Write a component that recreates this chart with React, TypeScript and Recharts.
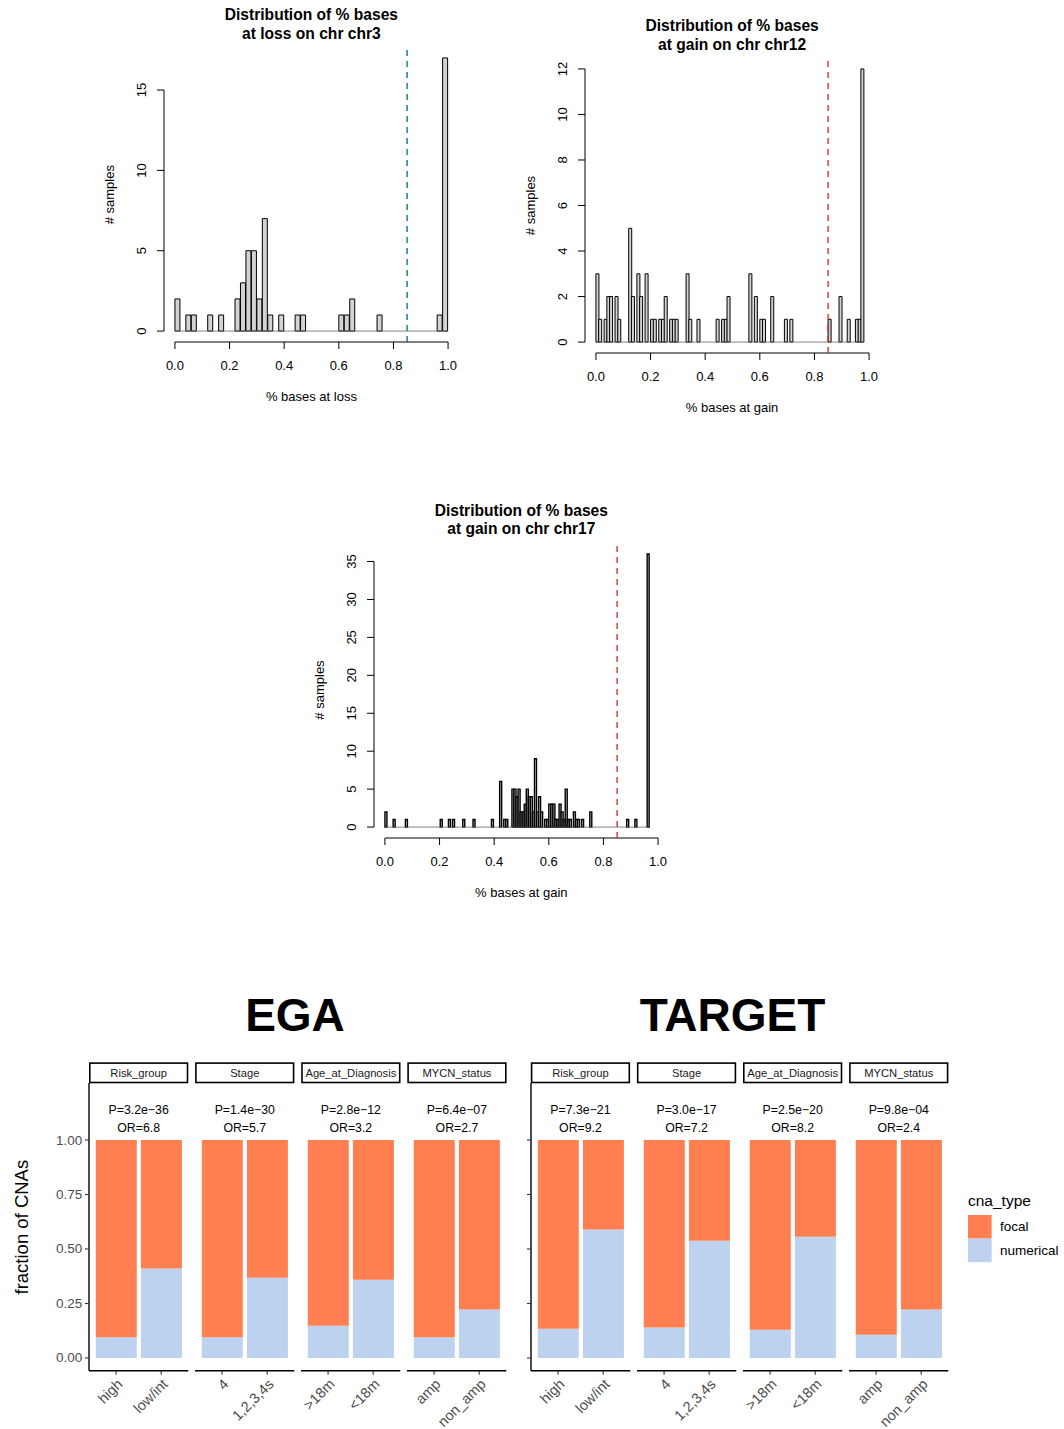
import React from 'react';
import { BarChart, ComposedChart, Bar, XAxis, YAxis, ReferenceLine } from 'recharts';

const FONT = '"Liberation Sans", Arial, Helvetica, sans-serif';

// ---------- histograms: number of samples per bin of "% bases" ----------

// chr3 loss, bins of width 0.02 starting at 0
const chr3BinWidth = 0.02;
const chr3Counts = [
  2, 0, 1, 1, 0, 0, 1, 0, 1, 0,
  0, 2, 3, 5, 5, 2, 7, 1, 0, 1,
  0, 0, 1, 1, 0, 0, 0, 0, 0, 0,
  1, 1, 2, 0, 0, 0, 0, 1, 0, 0,
  0, 0, 0, 0, 0, 0, 0, 0, 1, 17,
];

// chr12 gain, bins of width 0.01 starting at 0
const chr12BinWidth = 0.01;
const chr12Counts = [
  3, 1, 0, 1, 2, 2, 0, 2, 1, 0,
  0, 0, 5, 2, 0, 3, 2, 0, 3, 0,
  1, 1, 0, 1, 1, 2, 0, 1, 1, 1,
  0, 0, 0, 3, 1, 0, 0, 1, 0, 0,
  0, 0, 0, 0, 1, 0, 1, 1, 2, 0,
  0, 0, 0, 0, 0, 0, 3, 0, 2, 0,
  1, 1, 0, 0, 2, 0, 0, 0, 0, 1,
  0, 1, 0, 0, 0, 0, 0, 0, 0, 0,
  0, 0, 0, 0, 0, 1, 0, 0, 0, 2,
  0, 0, 1, 0, 0, 1, 1, 12,
];

// chr17 gain, bins of width 0.0075 starting at 0
const chr17BinWidth = 0.0075;
const chr17Counts = [
  2, 0, 0, 0, 1, 0, 0, 0, 0, 0,
  1, 0, 0, 0, 0, 0, 0, 0, 0, 0,
  0, 0, 0, 0, 0, 0, 0, 1, 0, 0,
  0, 1, 0, 1, 0, 0, 0, 0, 1, 0,
  0, 0, 0, 1, 0, 0, 0, 0, 0, 0,
  0, 0, 1, 0, 0, 0, 6, 0, 1, 1,
  0, 0, 5, 5, 4, 5, 2, 2, 3, 5,
  4, 4, 2, 9, 2, 4, 2, 0, 1, 1,
  3, 3, 3, 1, 1, 3, 2, 1, 5, 1,
  1, 0, 2, 1, 1, 0, 1, 0, 0, 0,
  2, 0, 0, 0, 0, 0, 0, 0, 0, 0,
  0, 0, 0, 0, 0, 0, 0, 0, 1, 0,
  0, 0, 1, 0, 0, 0, 0, 0, 36,
];

const histXTicks = [0, 0.2, 0.4, 0.6, 0.8, 1.0];
const chr3YTicks = [0, 5, 10, 15];
const chr12YTicks = [0, 2, 4, 6, 8, 10, 12];
const chr17YTicks = [0, 5, 10, 15, 20, 25, 30, 35];
const cutoff = 0.85;

// ---------- focal vs numerical CNA fractions ----------
const cnaFacets = ['Risk_group', 'Stage', 'Age_at_Diagnosis', 'MYCN_status'];
const cnaLevels = [
  ['high', 'low/int'],
  ['4', '1,2,3,4s'],
  ['>18m', '<18m'],
  ['amp', 'non_amp'],
];
const egaNumerical = [[0.095, 0.41], [0.095, 0.368], [0.148, 0.359], [0.095, 0.222]];
const targetNumerical = [[0.134, 0.589], [0.14, 0.538], [0.13, 0.556], [0.107, 0.222]];
const egaPValues = ['3.2e\u221236', '1.4e\u221230', '2.8e\u221212', '6.4e\u221207'];
const egaOddsRatios = ['6.8', '5.7', '3.2', '2.7'];
const targetPValues = ['7.3e\u221221', '3.0e\u221217', '2.5e\u221220', '9.8e\u221204'];
const targetOddsRatios = ['9.2', '7.2', '8.2', '2.4'];
const fractionTicks = [0, 0.25, 0.5, 0.75, 1];
const cnaTypes = ['focal', 'numerical'];

const FOCAL = '#FF7F50';
const NUMERICAL = '#BCD2EE';

// ---------- layout ----------
const PAGE_W = 1064;
const PAGE_H = 1429;
const PLOT = 295;
const HIST_X_DOMAIN: [number, number] = [-0.04, 1.04];
const HIST_AXIS_W = 80;
const HIST_AXIS_H = 60;
const HIST_PAD = 10;

const PANEL_W = 99.3;
const PANEL_STEP = 106.1;
const PANEL_TOP = 1083.3;
const PANEL_H = 287.7;
const STRIP_TOP = 1062.3;
const STRIP_H = 21;
const EGA_LEFT = 89;
const TARGET_LEFT = 530.8;
const FRACTION_DOMAIN: [number, number] = [-0.0583, 1.2615];

const HistXTick = (props: any) => {
  const { x, y, payload } = props;
  return (
    <text x={x} y={y + 19} textAnchor="middle" fontSize={13} fontFamily={FONT} fill="#000">
      {Number(payload.value).toFixed(1)}
    </text>
  );
};

const HistYTick = (props: any) => {
  const { x, y, payload } = props;
  return (
    <text
      x={x}
      y={y}
      transform={`rotate(-90 ${x} ${y})`}
      textAnchor="middle"
      fontSize={13}
      fontFamily={FONT}
      fill="#000"
    >
      {payload.value}
    </text>
  );
};

type HistProps = {
  left: number;
  top: number;
  counts: number[];
  binWidth: number;
  yTicks: number[];
  cutColor: string;
  barStroke: number;
};

function Histogram({ left, top, counts, binWidth, yTicks, cutColor, barStroke }: HistProps) {
  const rows = counts.map((n, i) => ({ x: (i + 0.5) * binWidth, n }));
  const yMax = Math.max(...counts);
  const yDomain: [number, number] = [-0.04 * yMax, 1.04 * yMax];
  const lastBreak = counts.length * binWidth;
  return (
    <div style={{ position: 'absolute', left: left - HIST_AXIS_W, top: top - HIST_PAD }}>
      <ComposedChart
        width={HIST_AXIS_W + PLOT + HIST_PAD}
        height={HIST_PAD + PLOT + HIST_AXIS_H}
        data={rows}
        margin={{ top: HIST_PAD, right: HIST_PAD, bottom: 0, left: 0 }}
        barCategoryGap={0}
        barGap={0}
      >
        <XAxis
          type="number"
          dataKey="x"
          domain={HIST_X_DOMAIN}
          ticks={histXTicks}
          interval={0}
          allowDataOverflow
          axisLine={false}
          stroke="#000"
          tickSize={7}
          tickMargin={2}
          height={HIST_AXIS_H}
          tick={HistXTick}
        />
        <YAxis
          type="number"
          domain={yDomain}
          ticks={yTicks}
          interval={0}
          allowDataOverflow
          axisLine={false}
          stroke="#000"
          tickSize={7}
          tickMargin={11}
          width={HIST_AXIS_W}
          tick={HistYTick}
        />
        <Bar dataKey="n" fill="#D3D3D3" stroke="#000" strokeWidth={barStroke} isAnimationActive={false} />
        <ReferenceLine
          segment={[{ x: 0, y: 0 }, { x: lastBreak, y: 0 }]}
          stroke="#666"
          strokeWidth={0.8}
          ifOverflow="visible"
        />
        <ReferenceLine
          segment={[{ x: HIST_X_DOMAIN[0], y: 0 }, { x: HIST_X_DOMAIN[0], y: yTicks[yTicks.length - 1] }]}
          stroke="#000"
          strokeWidth={1}
          ifOverflow="visible"
        />
        <ReferenceLine
          segment={[{ x: 0, y: yDomain[0] }, { x: 1, y: yDomain[0] }]}
          stroke="#000"
          strokeWidth={1}
          ifOverflow="visible"
        />
        <ReferenceLine x={cutoff} stroke={cutColor} strokeWidth={1.3} strokeDasharray="6 5" ifOverflow="visible" />
      </ComposedChart>
    </div>
  );
}

const CnaXTick = (props: any) => {
  const { x, y, payload } = props;
  return (
    <text
      x={x}
      y={y}
      dy="0.72em"
      textAnchor="end"
      transform={`rotate(-45 ${x} ${y})`}
      fontSize={14.5}
      fontFamily={FONT}
      fill="#4D4D4D"
    >
      {payload.value}
    </text>
  );
};

const CnaYTick = (props: any) => {
  const { x, y, payload } = props;
  return (
    <text x={x} y={y} textAnchor="end" dominantBaseline="central" fontSize={13.5} fontFamily={FONT} fill="#4D4D4D">
      {Number(payload.value).toFixed(2)}
    </text>
  );
};

const BlankTick = () => <g />;

type FacetProps = {
  left: number;
  levels: string[];
  numerical: number[];
  yAxis: 'labels' | 'ticks' | 'none';
};

function CnaFacet({ left, levels, numerical, yAxis }: FacetProps) {
  const rows = levels.map((level, i) => ({ level, numerical: numerical[i], focal: 1 - numerical[i] }));
  const axisW = yAxis === 'none' ? 0 : 60;
  const padL = yAxis === 'none' ? 4 : 0;
  const padT = 8;
  const top = PANEL_TOP - padT;
  const axisH = PAGE_H - PANEL_TOP - PANEL_H;
  return (
    <div style={{ position: 'absolute', left: left - axisW - padL, top }}>
      <BarChart
        width={axisW + padL + PANEL_W + 4}
        height={padT + PANEL_H + axisH}
        data={rows}
        margin={{ top: padT, right: 4, bottom: 0, left: padL }}
        barCategoryGap="5%"
      >
        <XAxis
          dataKey="level"
          type="category"
          padding={{ left: 4.51, right: 4.51 }}
          interval={0}
          stroke="#000"
          axisLine={{ stroke: '#000', strokeWidth: 1.4 }}
          tickLine={{ stroke: '#333', strokeWidth: 1.1 }}
          tickSize={4}
          tickMargin={3}
          height={axisH}
          tick={CnaXTick}
        />
        <YAxis
          type="number"
          domain={FRACTION_DOMAIN}
          ticks={fractionTicks}
          interval={0}
          allowDataOverflow
          hide={yAxis === 'none'}
          width={axisW}
          stroke="#000"
          axisLine={{ stroke: '#000', strokeWidth: 1.4 }}
          tickLine={{ stroke: '#333', strokeWidth: 1.1 }}
          tickSize={4}
          tickMargin={2.7}
          tick={yAxis === 'labels' ? CnaYTick : BlankTick}
        />
        <Bar dataKey="numerical" stackId="cna" fill={NUMERICAL} isAnimationActive={false} />
        <Bar dataKey="focal" stackId="cna" fill={FOCAL} isAnimationActive={false} />
      </BarChart>
    </div>
  );
}

type HistText = { cx: number; top: number; left: number; title: string; xLabel: string };

const histTexts: HistText[] = [
  { cx: 163.9 + PLOT / 2, top: 47.2, left: 163.9, title: 'at loss on chr chr3', xLabel: '% bases at loss' },
  { cx: 584.6 + PLOT / 2, top: 58.0, left: 584.6, title: 'at gain on chr chr12', xLabel: '% bases at gain' },
  { cx: 373.8 + PLOT / 2, top: 542.5, left: 373.8, title: 'at gain on chr chr17', xLabel: '% bases at gain' },
];

function GroupLabels({ left, pValues, oddsRatios }: { left: number; pValues: string[]; oddsRatios: string[] }) {
  return (
    <g>
      {cnaFacets.map((facet, i) => {
        const x0 = left + i * PANEL_STEP;
        const cx = x0 + PANEL_W / 2;
        return (
          <g key={facet}>
            <rect x={x0 + 0.8} y={STRIP_TOP + 0.8} width={PANEL_W - 1.6} height={STRIP_H - 1.6} fill="#fff" stroke="#000" strokeWidth={1.6} />
            <text x={cx} y={STRIP_TOP + STRIP_H / 2} textAnchor="middle" dominantBaseline="central" fontSize={11.2} fill="#1A1A1A">
              {facet}
            </text>
            <text x={cx} y={1110} textAnchor="middle" dominantBaseline="central" fontSize={12.3} fill="#000">
              {'P=' + pValues[i]}
            </text>
            <text x={cx} y={1128} textAnchor="middle" dominantBaseline="central" fontSize={12.3} fill="#000">
              {'OR=' + oddsRatios[i]}
            </text>
          </g>
        );
      })}
    </g>
  );
}

function Annotations() {
  return (
    <svg
      width={PAGE_W}
      height={PAGE_H}
      style={{ position: 'absolute', left: 0, top: 0, pointerEvents: 'none' }}
      fontFamily={FONT}
    >
      {histTexts.map((h) => (
        <g key={h.title}>
          <text x={h.cx} y={h.top - 32.5} textAnchor="middle" dominantBaseline="central" fontSize={15.6} fontWeight="bold">
            Distribution of % bases
          </text>
          <text x={h.cx} y={h.top - 14} textAnchor="middle" dominantBaseline="central" fontSize={15.6} fontWeight="bold">
            {h.title}
          </text>
          <text x={h.cx} y={h.top + PLOT + 54.5} textAnchor="middle" dominantBaseline="central" fontSize={13}>
            {h.xLabel}
          </text>
          <text
            x={h.left - 54}
            y={h.top + PLOT / 2}
            textAnchor="middle"
            dominantBaseline="central"
            fontSize={13}
            transform={`rotate(-90 ${h.left - 54} ${h.top + PLOT / 2})`}
          >
            # samples
          </text>
        </g>
      ))}

      <text x={295} y={1015} textAnchor="middle" dominantBaseline="central" fontSize={46} fontWeight="bold">
        EGA
      </text>
      <text x={732.5} y={1015} textAnchor="middle" dominantBaseline="central" fontSize={46} fontWeight="bold">
        TARGET
      </text>
      <text
        x={21.7}
        y={PANEL_TOP + PANEL_H / 2}
        textAnchor="middle"
        dominantBaseline="central"
        fontSize={18.5}
        transform={`rotate(-90 21.7 ${PANEL_TOP + PANEL_H / 2})`}
      >
        fraction of CNAs
      </text>

      <GroupLabels left={EGA_LEFT} pValues={egaPValues} oddsRatios={egaOddsRatios} />
      <GroupLabels left={TARGET_LEFT} pValues={targetPValues} oddsRatios={targetOddsRatios} />

      <text x={968} y={1200} dominantBaseline="central" fontSize={15.5} fill="#000">
        cna_type
      </text>
      {cnaTypes.map((t, i) => (
        <g key={t}>
          <rect x={968} y={1215 + i * 23.6} width={23.6} height={23.6} fill={t === 'focal' ? FOCAL : NUMERICAL} />
          <text x={1000} y={1215 + i * 23.6 + 11.8} dominantBaseline="central" fontSize={13.5} fill="#000">
            {t}
          </text>
        </g>
      ))}
    </svg>
  );
}

export default function App() {
  return (
    <div
      style={{
        position: 'absolute',
        left: 0,
        top: 0,
        width: PAGE_W,
        height: PAGE_H,
        overflow: 'hidden',
        background: '#fff',
        fontFamily: FONT,
      }}
    >
      <Histogram left={163.9} top={47.2} counts={chr3Counts} binWidth={chr3BinWidth} yTicks={chr3YTicks} cutColor="#00688B" barStroke={1} />
      <Histogram left={584.6} top={58.0} counts={chr12Counts} binWidth={chr12BinWidth} yTicks={chr12YTicks} cutColor="#CD2626" barStroke={1} />
      <Histogram left={373.8} top={542.5} counts={chr17Counts} binWidth={chr17BinWidth} yTicks={chr17YTicks} cutColor="#CD2626" barStroke={1.4} />

      {cnaLevels.map((levels, i) => (
        <CnaFacet
          key={'ega-' + i}
          left={EGA_LEFT + i * PANEL_STEP}
          levels={levels}
          numerical={egaNumerical[i]}
          yAxis={i === 0 ? 'labels' : 'none'}
        />
      ))}
      {cnaLevels.map((levels, i) => (
        <CnaFacet
          key={'target-' + i}
          left={TARGET_LEFT + i * PANEL_STEP}
          levels={levels}
          numerical={targetNumerical[i]}
          yAxis={i === 0 ? 'ticks' : 'none'}
        />
      ))}

      <Annotations />
    </div>
  );
}
